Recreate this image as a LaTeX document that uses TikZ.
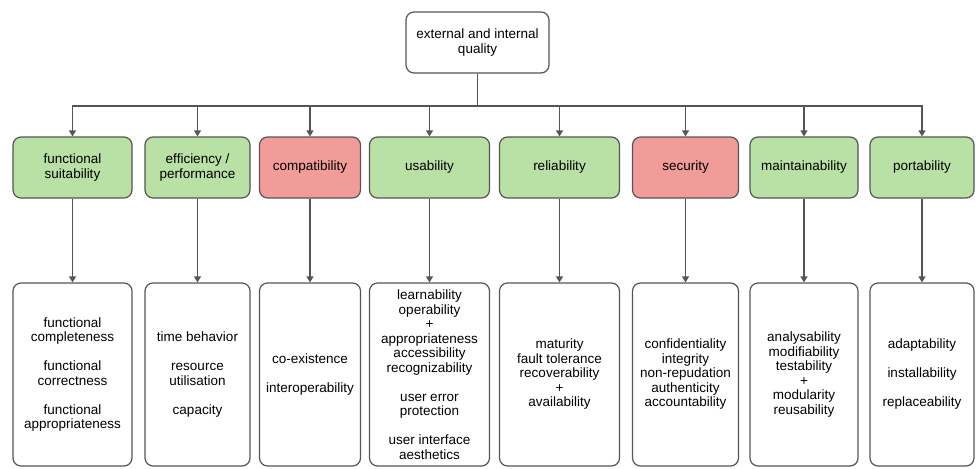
\documentclass[tikz,border=0pt]{standalone}
\usepackage{fontspec}
\setmainfont{Liberation Sans}
\usetikzlibrary{arrows.meta}
\definecolor{goodfill}{HTML}{B9E0A5}
\definecolor{badfill}{HTML}{F19C99}
\definecolor{edgegray}{HTML}{555555}
\tikzset{
  box/.style={draw=edgegray, line width=1.2pt, rounded corners=8pt, align=center,
    inner sep=2pt, font=\fontsize{13.5}{14.5}\selectfont},
  charbox/.style={box, minimum height=61pt},
  good/.style={charbox, fill=goodfill},
  bad/.style={charbox, fill=badfill},
  subbox/.style={box, minimum height=183pt, fill=white},
  link/.style={draw=edgegray, line width=1.2pt, -{Triangle[width=7pt,length=6pt]}}
}

\begin{document}
\begin{tikzpicture}[x=1pt,y=-1pt]
\useasboundingbox (0,0) rectangle (976,468);

\node (Q) at (477.5,42.5) [box, minimum width=143pt, minimum height=61pt] {external and internal\\quality};
\coordinate (bus) at (478,106);

\node (C1) at (72.5,167.5) [good, minimum width=119pt] {functional\\suitability};
\node (C2) at (197.5,167.5) [good, minimum width=105pt] {efficiency /\\performance};
\node (C3) at (310,167.5) [bad, minimum width=101pt] {compatibility};
\node (C4) at (429.5,167.5) [good, minimum width=120pt] {usability};
\node (C5) at (559.5,167.5) [good, minimum width=120pt] {reliability};
\node (C6) at (685.5,167.5) [bad, minimum width=106pt] {security};
\node (C7) at (804,167.5) [good, minimum width=108pt] {maintainability};
\node (C8) at (922,167.5) [good, minimum width=104pt] {portability};

\node (S1) at (72.5,374.5) [subbox, minimum width=119pt] {functional\\completeness\\[14.5pt]functional\\correctness\\[14.5pt]functional\\appropriateness};
\node (S2) at (197.5,374.5) [subbox, minimum width=105pt] {time behavior\\[14.5pt]resource\\utilisation\\[14.5pt]capacity};
\node (S3) at (310,374.5) [subbox, minimum width=101pt] {co-existence\\[14.5pt]interoperability};
\node (S4) at (429.5,374.5) [subbox, minimum width=120pt] {learnability\\operability\\+\\appropriateness\\accessibility\\recognizability\\[14.5pt]user error\\protection\\[14.5pt]user interface\\aesthetics};
\node (S5) at (559.5,374.5) [subbox, minimum width=120pt] {maturity\\fault tolerance\\recoverability\\+\\availability};
\node (S6) at (685.5,374.5) [subbox, minimum width=106pt] {confidentiality\\integrity\\non-repudation\\authenticity\\accountability};
\node (S7) at (804,374.5) [subbox, minimum width=108pt] {analysability\\modifiability\\testability\\+\\modularity\\reusability};
\node (S8) at (922,374.5) [subbox, minimum width=104pt] {adaptability\\[14.5pt]installability\\[14.5pt]replaceability};

\draw [link] (Q.south) -- (Q.south |- bus) -| (C1.north);
\draw [link] (Q.south) -- (Q.south |- bus) -| (C2.north);
\draw [link] (Q.south) -- (Q.south |- bus) -| (C3.north);
\draw [link] (Q.south) -- (Q.south |- bus) -| (C4.north);
\draw [link] (Q.south) -- (Q.south |- bus) -| (C5.north);
\draw [link] (Q.south) -- (Q.south |- bus) -| (C6.north);
\draw [link] (Q.south) -- (Q.south |- bus) -| (C7.north);
\draw [link] (Q.south) -- (Q.south |- bus) -| (C8.north);

\draw [link] (C1) -- (S1);
\draw [link] (C2) -- (S2);
\draw [link] (C3) -- (S3);
\draw [link] (C4) -- (S4);
\draw [link] (C5) -- (S5);
\draw [link] (C6) -- (S6);
\draw [link] (C7) -- (S7);
\draw [link] (C8) -- (S8);

\end{tikzpicture}
\end{document}
